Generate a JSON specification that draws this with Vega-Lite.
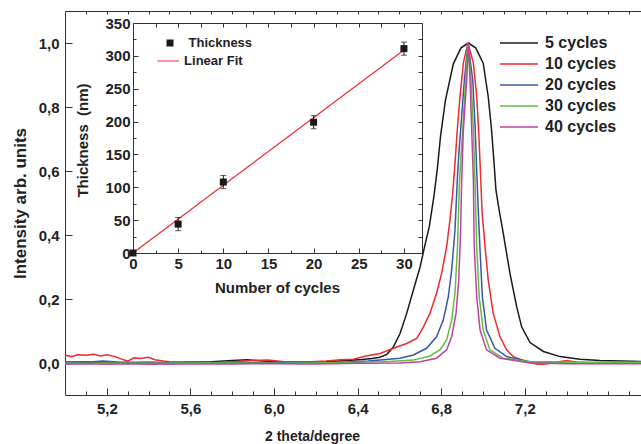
{
  "$schema": "https://vega.github.io/schema/vega-lite/v6.json",
  "width": 576,
  "height": 384,
  "autosize": {"type": "none"},
  "padding": {"left": 65, "top": 11, "right": 0, "bottom": 49},
  "background": "white",
  "config": {
    "view": {"stroke": null},
    "font": "Liberation Sans",
    "axis": {
      "grid": false,
      "labelFont": "Liberation Sans",
      "titleFont": "Liberation Sans",
      "labelFontWeight": "bold",
      "titleFontWeight": "bold",
      "labelColor": "#222222",
      "titleColor": "#222222",
      "domainColor": "#333333",
      "domainWidth": 1,
      "tickWidth": 1,
      "labelFlush": false,
      "labelOverlap": false,
      "labelFontSize": 15
    },
    "legend": {
      "labelFont": "Liberation Sans",
      "labelFontWeight": "bold",
      "labelColor": "#222222",
      "padding": 0
    }
  },
  "datasets": {
    "xrd": [
      {"s": "5 cycles", "t": 5.00, "i": 0.002},
      {"s": "5 cycles", "t": 5.10, "i": 0.003},
      {"s": "5 cycles", "t": 5.20, "i": 0.002},
      {"s": "5 cycles", "t": 5.30, "i": 0.001},
      {"s": "5 cycles", "t": 5.40, "i": 0.002},
      {"s": "5 cycles", "t": 5.50, "i": 0.001},
      {"s": "5 cycles", "t": 5.60, "i": 0.002},
      {"s": "5 cycles", "t": 5.70, "i": 0.004},
      {"s": "5 cycles", "t": 5.80, "i": 0.008},
      {"s": "5 cycles", "t": 5.87, "i": 0.010},
      {"s": "5 cycles", "t": 5.95, "i": 0.006},
      {"s": "5 cycles", "t": 6.05, "i": 0.003},
      {"s": "5 cycles", "t": 6.15, "i": 0.002},
      {"s": "5 cycles", "t": 6.25, "i": 0.004},
      {"s": "5 cycles", "t": 6.35, "i": 0.008},
      {"s": "5 cycles", "t": 6.42, "i": 0.011},
      {"s": "5 cycles", "t": 6.47, "i": 0.014},
      {"s": "5 cycles", "t": 6.507, "i": 0.018},
      {"s": "5 cycles", "t": 6.54, "i": 0.027},
      {"s": "5 cycles", "t": 6.571, "i": 0.050},
      {"s": "5 cycles", "t": 6.603, "i": 0.092},
      {"s": "5 cycles", "t": 6.635, "i": 0.155},
      {"s": "5 cycles", "t": 6.667, "i": 0.228},
      {"s": "5 cycles", "t": 6.699, "i": 0.300},
      {"s": "5 cycles", "t": 6.72, "i": 0.362},
      {"s": "5 cycles", "t": 6.743, "i": 0.426},
      {"s": "5 cycles", "t": 6.765, "i": 0.520},
      {"s": "5 cycles", "t": 6.782, "i": 0.610},
      {"s": "5 cycles", "t": 6.797, "i": 0.710},
      {"s": "5 cycles", "t": 6.82, "i": 0.820},
      {"s": "5 cycles", "t": 6.858, "i": 0.935},
      {"s": "5 cycles", "t": 6.895, "i": 0.985},
      {"s": "5 cycles", "t": 6.93, "i": 1.000},
      {"s": "5 cycles", "t": 6.965, "i": 0.985},
      {"s": "5 cycles", "t": 7.001, "i": 0.937},
      {"s": "5 cycles", "t": 7.025, "i": 0.832},
      {"s": "5 cycles", "t": 7.041, "i": 0.728},
      {"s": "5 cycles", "t": 7.053, "i": 0.624},
      {"s": "5 cycles", "t": 7.062, "i": 0.540},
      {"s": "5 cycles", "t": 7.078, "i": 0.475},
      {"s": "5 cycles", "t": 7.097, "i": 0.405},
      {"s": "5 cycles", "t": 7.129, "i": 0.280},
      {"s": "5 cycles", "t": 7.161, "i": 0.176},
      {"s": "5 cycles", "t": 7.185, "i": 0.113},
      {"s": "5 cycles", "t": 7.225, "i": 0.064},
      {"s": "5 cycles", "t": 7.289, "i": 0.036},
      {"s": "5 cycles", "t": 7.368, "i": 0.020},
      {"s": "5 cycles", "t": 7.464, "i": 0.012},
      {"s": "5 cycles", "t": 7.56, "i": 0.008},
      {"s": "5 cycles", "t": 7.66, "i": 0.006},
      {"s": "5 cycles", "t": 7.756, "i": 0.005},

      {"s": "10 cycles", "t": 5.00, "i": 0.025},
      {"s": "10 cycles", "t": 5.03, "i": 0.020},
      {"s": "10 cycles", "t": 5.06, "i": 0.026},
      {"s": "10 cycles", "t": 5.10, "i": 0.024},
      {"s": "10 cycles", "t": 5.14, "i": 0.027},
      {"s": "10 cycles", "t": 5.17, "i": 0.022},
      {"s": "10 cycles", "t": 5.20, "i": 0.026},
      {"s": "10 cycles", "t": 5.24, "i": 0.020},
      {"s": "10 cycles", "t": 5.27, "i": 0.012},
      {"s": "10 cycles", "t": 5.30, "i": 0.006},
      {"s": "10 cycles", "t": 5.33, "i": 0.016},
      {"s": "10 cycles", "t": 5.36, "i": 0.014},
      {"s": "10 cycles", "t": 5.40, "i": 0.018},
      {"s": "10 cycles", "t": 5.43, "i": 0.010},
      {"s": "10 cycles", "t": 5.47, "i": 0.006},
      {"s": "10 cycles", "t": 5.50, "i": 0.004},
      {"s": "10 cycles", "t": 5.55, "i": 0.002},
      {"s": "10 cycles", "t": 5.60, "i": 0.003},
      {"s": "10 cycles", "t": 5.70, "i": 0.001},
      {"s": "10 cycles", "t": 5.80, "i": 0.004},
      {"s": "10 cycles", "t": 5.90, "i": 0.008},
      {"s": "10 cycles", "t": 5.97, "i": 0.009},
      {"s": "10 cycles", "t": 6.05, "i": 0.004},
      {"s": "10 cycles", "t": 6.15, "i": 0.003},
      {"s": "10 cycles", "t": 6.25, "i": 0.006},
      {"s": "10 cycles", "t": 6.32, "i": 0.010},
      {"s": "10 cycles", "t": 6.38, "i": 0.012},
      {"s": "10 cycles", "t": 6.44, "i": 0.022},
      {"s": "10 cycles", "t": 6.507, "i": 0.030},
      {"s": "10 cycles", "t": 6.571, "i": 0.046},
      {"s": "10 cycles", "t": 6.635, "i": 0.061},
      {"s": "10 cycles", "t": 6.683, "i": 0.077},
      {"s": "10 cycles", "t": 6.715, "i": 0.113},
      {"s": "10 cycles", "t": 6.746, "i": 0.155},
      {"s": "10 cycles", "t": 6.778, "i": 0.218},
      {"s": "10 cycles", "t": 6.802, "i": 0.280},
      {"s": "10 cycles", "t": 6.826, "i": 0.363},
      {"s": "10 cycles", "t": 6.842, "i": 0.447},
      {"s": "10 cycles", "t": 6.855, "i": 0.530},
      {"s": "10 cycles", "t": 6.866, "i": 0.624},
      {"s": "10 cycles", "t": 6.877, "i": 0.728},
      {"s": "10 cycles", "t": 6.890, "i": 0.832},
      {"s": "10 cycles", "t": 6.906, "i": 0.937},
      {"s": "10 cycles", "t": 6.928, "i": 1.000},
      {"s": "10 cycles", "t": 6.954, "i": 0.937},
      {"s": "10 cycles", "t": 6.970, "i": 0.832},
      {"s": "10 cycles", "t": 6.979, "i": 0.728},
      {"s": "10 cycles", "t": 6.986, "i": 0.624},
      {"s": "10 cycles", "t": 6.990, "i": 0.560},
      {"s": "10 cycles", "t": 6.996, "i": 0.468},
      {"s": "10 cycles", "t": 7.010, "i": 0.363},
      {"s": "10 cycles", "t": 7.025, "i": 0.259},
      {"s": "10 cycles", "t": 7.049, "i": 0.155},
      {"s": "10 cycles", "t": 7.081, "i": 0.082},
      {"s": "10 cycles", "t": 7.113, "i": 0.041},
      {"s": "10 cycles", "t": 7.145, "i": 0.020},
      {"s": "10 cycles", "t": 7.209, "i": 0.004},
      {"s": "10 cycles", "t": 7.26, "i": -0.004},
      {"s": "10 cycles", "t": 7.30, "i": -0.003},
      {"s": "10 cycles", "t": 7.35, "i": 0.002},
      {"s": "10 cycles", "t": 7.40, "i": 0.008},
      {"s": "10 cycles", "t": 7.45, "i": 0.002},
      {"s": "10 cycles", "t": 7.55, "i": 0.000},
      {"s": "10 cycles", "t": 7.65, "i": 0.001},
      {"s": "10 cycles", "t": 7.756, "i": 0.000},

      {"s": "20 cycles", "t": 5.00, "i": 0.002},
      {"s": "20 cycles", "t": 5.12, "i": 0.003},
      {"s": "20 cycles", "t": 5.18, "i": 0.006},
      {"s": "20 cycles", "t": 5.25, "i": 0.003},
      {"s": "20 cycles", "t": 5.40, "i": 0.001},
      {"s": "20 cycles", "t": 5.60, "i": 0.002},
      {"s": "20 cycles", "t": 5.80, "i": 0.001},
      {"s": "20 cycles", "t": 6.00, "i": 0.002},
      {"s": "20 cycles", "t": 6.20, "i": 0.001},
      {"s": "20 cycles", "t": 6.35, "i": 0.003},
      {"s": "20 cycles", "t": 6.45, "i": 0.006},
      {"s": "20 cycles", "t": 6.507, "i": 0.009},
      {"s": "20 cycles", "t": 6.603, "i": 0.015},
      {"s": "20 cycles", "t": 6.667, "i": 0.025},
      {"s": "20 cycles", "t": 6.730, "i": 0.046},
      {"s": "20 cycles", "t": 6.778, "i": 0.082},
      {"s": "20 cycles", "t": 6.810, "i": 0.134},
      {"s": "20 cycles", "t": 6.834, "i": 0.207},
      {"s": "20 cycles", "t": 6.850, "i": 0.290},
      {"s": "20 cycles", "t": 6.866, "i": 0.416},
      {"s": "20 cycles", "t": 6.877, "i": 0.572},
      {"s": "20 cycles", "t": 6.884, "i": 0.650},
      {"s": "20 cycles", "t": 6.893, "i": 0.728},
      {"s": "20 cycles", "t": 6.911, "i": 0.884},
      {"s": "20 cycles", "t": 6.928, "i": 1.000},
      {"s": "20 cycles", "t": 6.951, "i": 0.884},
      {"s": "20 cycles", "t": 6.963, "i": 0.728},
      {"s": "20 cycles", "t": 6.970, "i": 0.600},
      {"s": "20 cycles", "t": 6.976, "i": 0.500},
      {"s": "20 cycles", "t": 6.985, "i": 0.363},
      {"s": "20 cycles", "t": 6.997, "i": 0.207},
      {"s": "20 cycles", "t": 7.017, "i": 0.103},
      {"s": "20 cycles", "t": 7.057, "i": 0.046},
      {"s": "20 cycles", "t": 7.113, "i": 0.020},
      {"s": "20 cycles", "t": 7.225, "i": 0.004},
      {"s": "20 cycles", "t": 7.35, "i": 0.002},
      {"s": "20 cycles", "t": 7.50, "i": 0.001},
      {"s": "20 cycles", "t": 7.756, "i": 0.002},

      {"s": "30 cycles", "t": 5.00, "i": -0.001},
      {"s": "30 cycles", "t": 5.20, "i": 0.000},
      {"s": "30 cycles", "t": 5.40, "i": -0.001},
      {"s": "30 cycles", "t": 5.60, "i": 0.000},
      {"s": "30 cycles", "t": 5.80, "i": 0.000},
      {"s": "30 cycles", "t": 6.00, "i": -0.001},
      {"s": "30 cycles", "t": 6.20, "i": 0.000},
      {"s": "30 cycles", "t": 6.40, "i": 0.002},
      {"s": "30 cycles", "t": 6.55, "i": 0.005},
      {"s": "30 cycles", "t": 6.667, "i": 0.009},
      {"s": "30 cycles", "t": 6.746, "i": 0.022},
      {"s": "30 cycles", "t": 6.794, "i": 0.041},
      {"s": "30 cycles", "t": 6.826, "i": 0.072},
      {"s": "30 cycles", "t": 6.850, "i": 0.134},
      {"s": "30 cycles", "t": 6.866, "i": 0.218},
      {"s": "30 cycles", "t": 6.878, "i": 0.363},
      {"s": "30 cycles", "t": 6.887, "i": 0.560},
      {"s": "30 cycles", "t": 6.895, "i": 0.650},
      {"s": "30 cycles", "t": 6.903, "i": 0.728},
      {"s": "30 cycles", "t": 6.917, "i": 0.884},
      {"s": "30 cycles", "t": 6.928, "i": 1.000},
      {"s": "30 cycles", "t": 6.943, "i": 0.884},
      {"s": "30 cycles", "t": 6.954, "i": 0.728},
      {"s": "30 cycles", "t": 6.962, "i": 0.560},
      {"s": "30 cycles", "t": 6.970, "i": 0.363},
      {"s": "30 cycles", "t": 6.982, "i": 0.207},
      {"s": "30 cycles", "t": 7.001, "i": 0.103},
      {"s": "30 cycles", "t": 7.033, "i": 0.041},
      {"s": "30 cycles", "t": 7.097, "i": 0.015},
      {"s": "30 cycles", "t": 7.225, "i": 0.004},
      {"s": "30 cycles", "t": 7.40, "i": 0.002},
      {"s": "30 cycles", "t": 7.60, "i": 0.002},
      {"s": "30 cycles", "t": 7.756, "i": 0.002},

      {"s": "40 cycles", "t": 5.00, "i": -0.004},
      {"s": "40 cycles", "t": 5.10, "i": -0.002},
      {"s": "40 cycles", "t": 5.20, "i": -0.004},
      {"s": "40 cycles", "t": 5.30, "i": -0.002},
      {"s": "40 cycles", "t": 5.40, "i": -0.004},
      {"s": "40 cycles", "t": 5.60, "i": -0.003},
      {"s": "40 cycles", "t": 5.80, "i": -0.003},
      {"s": "40 cycles", "t": 6.00, "i": -0.002},
      {"s": "40 cycles", "t": 6.20, "i": -0.003},
      {"s": "40 cycles", "t": 6.40, "i": -0.001},
      {"s": "40 cycles", "t": 6.60, "i": 0.000},
      {"s": "40 cycles", "t": 6.70, "i": 0.004},
      {"s": "40 cycles", "t": 6.778, "i": 0.015},
      {"s": "40 cycles", "t": 6.826, "i": 0.041},
      {"s": "40 cycles", "t": 6.850, "i": 0.082},
      {"s": "40 cycles", "t": 6.871, "i": 0.155},
      {"s": "40 cycles", "t": 6.884, "i": 0.259},
      {"s": "40 cycles", "t": 6.893, "i": 0.416},
      {"s": "40 cycles", "t": 6.898, "i": 0.572},
      {"s": "40 cycles", "t": 6.906, "i": 0.728},
      {"s": "40 cycles", "t": 6.922, "i": 0.884},
      {"s": "40 cycles", "t": 6.930, "i": 1.000},
      {"s": "40 cycles", "t": 6.938, "i": 0.884},
      {"s": "40 cycles", "t": 6.946, "i": 0.728},
      {"s": "40 cycles", "t": 6.954, "i": 0.572},
      {"s": "40 cycles", "t": 6.958, "i": 0.363},
      {"s": "40 cycles", "t": 6.970, "i": 0.207},
      {"s": "40 cycles", "t": 6.986, "i": 0.103},
      {"s": "40 cycles", "t": 7.017, "i": 0.041},
      {"s": "40 cycles", "t": 7.081, "i": 0.015},
      {"s": "40 cycles", "t": 7.225, "i": 0.000},
      {"s": "40 cycles", "t": 7.40, "i": -0.002},
      {"s": "40 cycles", "t": 7.60, "i": -0.002},
      {"s": "40 cycles", "t": 7.756, "i": -0.002}
    ],
    "thick": [
      {"n": 0, "th": 0, "lo": null, "hi": null},
      {"n": 5, "th": 44, "lo": 34, "hi": 54},
      {"n": 10, "th": 108, "lo": 98, "hi": 118},
      {"n": 20, "th": 199, "lo": 189, "hi": 209},
      {"n": 30, "th": 311, "lo": 301, "hi": 321}
    ],
    "fit": [
      {"n": 0, "th": 0},
      {"n": 30, "th": 309}
    ]
  },
  "layer": [
    {
      "layer": [
        {
          "data": {"name": "xrd"},
          "mark": {"type": "line", "strokeWidth": 1.5, "clip": true},
          "encoding": {
            "x": {"field": "t", "type": "quantitative",
              "scale": {"domain": [5, 7.756], "nice": false, "zero": false},
              "axis": {"orient": "bottom", "values": [5.2, 5.6, 6.0, 6.4, 6.8, 7.2],
                "labelExpr": "replace(format(datum.value, '.1f'), '.', ',')",
                "ticks": true, "tickSize": -7, "tickColor": "#333333", "labelPadding": 13, "labelFontSize": 15,
                "title": "2 theta/degree", "titleFontSize": 14, "titleX": 247, "titleY": 41,
                "titleBaseline": "middle", "titleAlign": "center"}},
            "y": {"field": "i", "type": "quantitative",
              "scale": {"domain": [-0.1, 1.1], "nice": false, "zero": false},
              "axis": {"orient": "left", "values": [0, 0.2, 0.4, 0.6, 0.8, 1.0],
                "labelExpr": "replace(format(datum.value, '.1f'), '.', ',')",
                "ticks": true, "tickSize": -7, "tickColor": "#333333", "labelPadding": 13, "labelFontSize": 15,
                "title": "Intensity arb. units", "titleFontSize": 17, "titleX": -45, "titleY": 192,
                "titleAngle": -90, "titleBaseline": "middle", "titleAlign": "center"}},
            "color": {"field": "s", "type": "nominal",
              "scale": {"domain": ["5 cycles", "10 cycles", "20 cycles", "30 cycles", "40 cycles"],
                "range": ["#1a1a1a", "#ee2a2f", "#3a57a8", "#66bb44", "#bb44a0"]},
              "legend": {"orient": "none", "legendX": 434, "legendY": 24, "title": null,
                "symbolType": "stroke", "symbolSize": 1444, "symbolStrokeWidth": 1.5,
                "labelFontSize": 16, "labelOffset": 6, "rowPadding": 5, "clipHeight": 16}}
          }
        },
        {
          "data": {"name": "xrd"},
          "mark": {"type": "point", "opacity": 0},
          "encoding": {
            "x": {"field": "t", "type": "quantitative",
              "scale": {"domain": [5, 7.756], "nice": false, "zero": false},
              "axis": {"orient": "top", "offset": -384,
                "values": [5.1, 5.3, 5.4, 5.5, 5.7, 5.8, 5.9, 6.1, 6.2, 6.3, 6.5, 6.6, 6.7, 6.9, 7.0, 7.1, 7.3, 7.4, 7.5, 7.6, 7.7],
                "labels": false, "domain": false, "ticks": true, "tickSize": 4, "tickColor": "#333333", "title": null}},
            "y": {"field": "i", "type": "quantitative",
              "scale": {"domain": [-0.1, 1.1], "nice": false, "zero": false}, "axis": null}
          }
        },
        {
          "data": {"name": "xrd"},
          "mark": {"type": "point", "opacity": 0},
          "encoding": {
            "x": {"field": "t", "type": "quantitative",
              "scale": {"domain": [5, 7.756], "nice": false, "zero": false},
              "axis": {"orient": "bottom", "offset": -384,
                "values": [5.1, 5.2, 5.3, 5.4, 5.5, 5.6, 5.7, 5.8, 5.9, 6.0, 6.1, 6.2, 6.3, 6.4, 6.5, 6.6, 6.7, 6.8, 6.9, 7.0, 7.1, 7.2, 7.3, 7.4, 7.5, 7.6, 7.7],
                "labels": false, "domain": true, "ticks": true, "tickSize": 3, "tickColor": "#333333", "title": null}},
            "y": {"field": "i", "type": "quantitative",
              "scale": {"domain": [-0.1, 1.1], "nice": false, "zero": false}, "axis": null}
          }
        }
      ],
      "resolve": {"axis": {"x": "independent", "y": "independent"}}
    },
    {
      "layer": [
        {
          "data": {"name": "fit"},
          "mark": {"type": "line", "strokeWidth": 1.2},
          "encoding": {
            "x": {"field": "n", "type": "quantitative",
              "scale": {"domain": [0, 32], "range": [68, 357], "nice": false, "zero": false},
              "axis": {"orient": "bottom", "offset": -142, "values": [0, 5, 10, 15, 20, 25, 30],
                "ticks": true, "tickSize": -5, "tickColor": "#333333", "labelPadding": 8, "labelFontSize": 15,
                "title": "Number of cycles", "titleFontSize": 15, "titleX": 212, "titleY": 34,
                "titleBaseline": "middle", "titleAlign": "center"}},
            "y": {"field": "th", "type": "quantitative",
              "scale": {"domain": [0, 350], "range": [242, 12], "nice": false, "zero": false},
              "axis": {"orient": "left", "offset": -68, "values": [0, 50, 100, 150, 200, 250, 300, 350],
                "ticks": true, "tickSize": -5, "tickColor": "#333333", "labelPadding": 8, "labelFontSize": 15,
                "title": "Thickness\u00a0\u00a0(nm)", "titleFontSize": 15, "titleX": -51, "titleY": 129,
                "titleAngle": -90, "titleBaseline": "middle", "titleAlign": "center"}},
            "color": {"datum": "Linear Fit",
              "scale": {"domain": ["Linear Fit"], "range": ["#ee2a2f"]},
              "legend": {"orient": "none", "legendX": 91.7, "legendY": 43.5, "title": null,
                "symbolType": "stroke", "symbolSize": 467, "symbolStrokeWidth": 1.2,
                "labelFontSize": 13, "labelOffset": 4.4, "clipHeight": 13}}
          }
        },
        {
          "data": {"name": "thick"},
          "mark": {"type": "point", "filled": true, "size": 49, "color": "#1a1a1a", "opacity": 1},
          "encoding": {
            "x": {"field": "n", "type": "quantitative",
              "scale": {"domain": [0, 32], "range": [68, 357], "nice": false, "zero": false},
              "axis": {"orient": "top", "offset": -242,
                "values": [2.5, 7.5, 12.5, 17.5, 22.5, 27.5],
                "labels": false, "domain": false, "ticks": true, "tickSize": 3, "tickColor": "#333333", "title": null}},
            "y": {"field": "th", "type": "quantitative",
              "scale": {"domain": [0, 350], "range": [242, 12], "nice": false, "zero": false},
              "axis": {"orient": "right", "offset": -508, "values": [25, 75, 125, 175, 225, 275, 325],
                "labels": false, "domain": false, "ticks": true, "tickSize": 3, "tickColor": "#333333", "title": null}},
            "shape": {"datum": "Thickness",
              "scale": {"domain": ["Thickness"], "range": ["square"]},
              "legend": {"orient": "none", "legendX": 98.5, "legendY": 25.5, "title": null,
                "symbolSize": 49, "symbolFillColor": "#1a1a1a", "symbolStrokeWidth": 0,
                "labelFontSize": 13, "labelOffset": 12, "clipHeight": 13}}
          }
        },
        {
          "data": {"name": "thick"},
          "mark": {"type": "rule", "color": "#1a1a1a", "strokeWidth": 1},
          "encoding": {
            "x": {"field": "n", "type": "quantitative",
              "scale": {"domain": [0, 32], "range": [68, 357], "nice": false, "zero": false},
              "axis": {"orient": "bottom", "offset": -372,
                "values": [2.5, 5, 7.5, 10, 12.5, 15, 17.5, 20, 22.5, 25, 27.5, 30],
                "labels": false, "domain": true, "ticks": true, "tickSize": 4, "tickColor": "#333333", "title": null}},
            "y": {"field": "lo", "type": "quantitative",
              "scale": {"domain": [0, 350], "range": [242, 12], "nice": false, "zero": false},
              "axis": {"orient": "left", "offset": -357,
                "values": [25, 50, 75, 100, 125, 150, 175, 200, 225, 250, 275, 300, 325],
                "labels": false, "domain": true, "ticks": true, "tickSize": 4, "tickColor": "#333333", "title": null}},
            "y2": {"field": "hi"}
          }
        },
        {
          "data": {"name": "thick"},
          "mark": {"type": "tick", "orient": "horizontal", "color": "#1a1a1a", "size": 6, "thickness": 1},
          "encoding": {
            "x": {"field": "n", "type": "quantitative",
              "scale": {"domain": [0, 32], "range": [68, 357], "nice": false, "zero": false}, "axis": null},
            "y": {"field": "lo", "type": "quantitative",
              "scale": {"domain": [0, 350], "range": [242, 12], "nice": false, "zero": false}, "axis": null}
          }
        },
        {
          "data": {"name": "thick"},
          "mark": {"type": "tick", "orient": "horizontal", "color": "#1a1a1a", "size": 6, "thickness": 1},
          "encoding": {
            "x": {"field": "n", "type": "quantitative",
              "scale": {"domain": [0, 32], "range": [68, 357], "nice": false, "zero": false}, "axis": null},
            "y": {"field": "hi", "type": "quantitative",
              "scale": {"domain": [0, 350], "range": [242, 12], "nice": false, "zero": false}, "axis": null}
          }
        }
      ],
      "resolve": {"axis": {"x": "independent", "y": "independent"}}
    }
  ],
  "resolve": {"scale": {"x": "independent", "y": "independent", "color": "independent", "shape": "independent"}}
}
